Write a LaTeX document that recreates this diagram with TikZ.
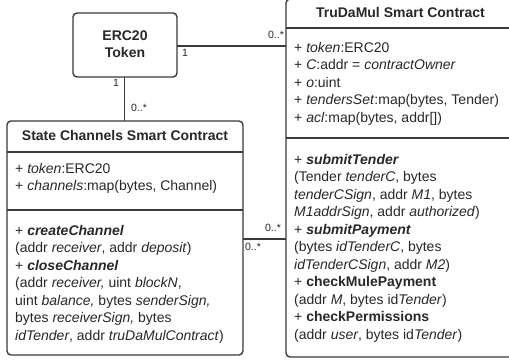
\documentclass[tikz,border=0pt]{standalone}
\usepackage{fontspec}
\setmainfont{Liberation Sans}
\begin{document}
\begin{tikzpicture}[x=1pt,y=-1pt,
  box/.style={draw=lineC,line width=1.4pt,rounded corners=4pt},
  sep/.style={draw=lineC,line width=1.4pt},
  conn/.style={draw=lineC,line width=1.4pt},
  txt/.style={anchor=base west,inner sep=0pt,text=textC,font=\fontsize{14}{16}\selectfont},
  head/.style={anchor=base,inner sep=0pt,text=textC,font=\fontsize{14}{16}\selectfont\bfseries},
  mult/.style={inner sep=0pt,text=textC,font=\fontsize{10.5}{12}\selectfont},
]
\definecolor{lineC}{HTML}{3A3A3A}
\definecolor{textC}{HTML}{282828}
\useasboundingbox (0,0) rectangle (509,360);
\fill[white] (0,0) rectangle (509,360);

% ERC20 box
\draw[box] (73,13) rectangle (177,77);
\node[head] (ercA) at (125,40) {ERC20};
\node[head] (ercB) at (125,57) {Token};
\coordinate (ercR) at (177,46);
\coordinate (ercS) at (124.5,77);

% TruDaMul box
\draw[box] (286,-1) rectangle (515,357);
\draw[sep] (286,28) -- (515,28);
\draw[sep] (286,138) -- (515,138);
\node[head] (tH) at (400.5,17) {TruDaMul Smart Contract};
\coordinate (tL1) at (286,46);
\coordinate (tL2) at (286,239);
\node[txt] (t1) at (294,52) {+ \textit{token}:ERC20};
\node[txt] (t2) at (294,69.5) {+ \textit{C}:addr = \textit{contractOwner}};
\node[txt] (t3) at (294,87) {+ \textit{o}:uint};
\node[txt] (t4) at (294,104.5) {+ \textit{tendersSet}:map(bytes, Tender)};
\node[txt] (t5) at (294,122) {+ \textit{acl}:map(bytes, addr[])};
\node[txt] (m1) at (294,164) {+ \textbf{\textit{submitTender}}};
\node[txt] (m2) at (294,181.5) {(Tender \textit{tenderC}, bytes};
\node[txt] (m3) at (294,199) {\textit{tenderCSign}, addr \textit{M1}, bytes};
\node[txt] (m4) at (294,216.5) {\textit{M1addrSign}, addr \textit{authorized})};
\node[txt] (m5) at (294,234) {+ \textbf{\textit{submitPayment}}};
\node[txt] (m6) at (294,251.5) {(bytes \textit{idTenderC}, bytes};
\node[txt] (m7) at (294,269) {\textit{idTenderCSign}, addr \textit{M2})};
\node[txt] (m8) at (294,286.5) {+ \textbf{checkMulePayment}};
\node[txt] (m9) at (294,304) {(addr \textit{M}, bytes id\textit{Tender})};
\node[txt] (m10) at (294,321.5) {+ \textbf{checkPermissions}};
\node[txt] (m11) at (294,339) {(addr \textit{user}, bytes id\textit{Tender})};

% State Channels box
\draw[box] (7,121) rectangle (243,355);
\draw[sep] (7,152) -- (243,152);
\draw[sep] (7,210) -- (243,210);
\node[head] (sH) at (125,140) {State Channels Smart Contract};
\coordinate (sT) at (124.5,121);
\coordinate (sR) at (243,239);
\node[txt] (s1) at (15,173) {+ \textit{token}:ERC20};
\node[txt] (s2) at (15,190.5) {+ \textit{channels}:map(bytes, Channel)};
\node[txt] (n1) at (15,235) {+ \textbf{\textit{createChannel}}};
\node[txt] (n2) at (15,252.5) {(addr \textit{receiver}, addr \textit{deposit})};
\node[txt] (n3) at (15,270) {+ \textbf{\textit{closeChannel}}};
\node[txt] (n4) at (15,287.5) {(addr \textit{receiver,} uint \textit{blockN},};
\node[txt] (n5) at (15,305) {uint \textit{balance,} bytes \textit{senderSign,}};
\node[txt] (n6) at (15,322.5) {bytes \textit{receiverSign,} bytes};
\node[txt] (n7) at (15,340) {\textit{idTender}, addr \textit{truDaMulContract})};

% connectors
\draw[conn] (ercR) -- (tL1);
\draw[conn] (ercS) -- (sT);
\draw[conn] (sR) -- (tL2);

% multiplicities
\node[mult] (l1) at (185,53) {1};
\node[mult] (l2) at (276,35) {0..*};
\node[mult] (l3) at (116,83) {1};
\node[mult] (l4) at (139,108) {0..*};
\node[mult] (l5) at (273,228) {0..*};
\node[mult] (l6) at (253,247) {0..*};
\end{tikzpicture}
\end{document}
